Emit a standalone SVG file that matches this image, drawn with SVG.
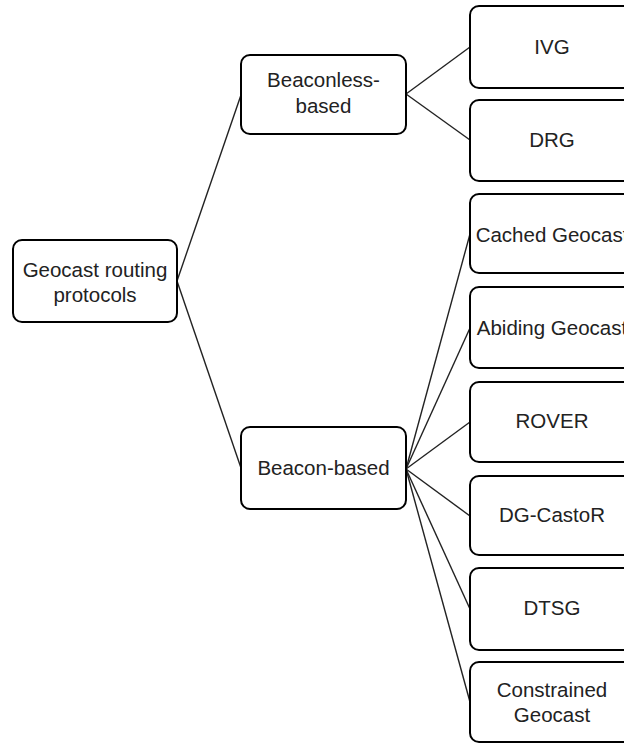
<svg xmlns="http://www.w3.org/2000/svg" width="624" height="743" viewBox="0 0 624 743">
<style>
.box{fill:#fff;stroke:#000;stroke-width:2}
.t{font-family:"Liberation Sans",Arial,sans-serif;font-size:20.5px;fill:#222;text-anchor:middle}
.c{stroke:#222;stroke-width:1.4;fill:none}
</style>
<rect width="624" height="743" fill="#fff"/>
<g id="connectors">
<line class="c" x1="177" y1="281" x2="241" y2="95"/>
<line class="c" x1="177" y1="281" x2="241" y2="468"/>
<line class="c" x1="406" y1="94" x2="470" y2="47"/>
<line class="c" x1="406" y1="94" x2="470" y2="140"/>
<line class="c" x1="406" y1="469" x2="470" y2="234"/>
<line class="c" x1="406" y1="469" x2="470" y2="328"/>
<line class="c" x1="406" y1="469" x2="470" y2="422"/>
<line class="c" x1="406" y1="469" x2="470" y2="516"/>
<line class="c" x1="406" y1="469" x2="470" y2="609"/>
<line class="c" x1="406" y1="469" x2="470" y2="702"/>
</g>
<g id="root">
<rect class="box" x="13" y="240" width="164" height="82" rx="9"/>
<text class="t" x="95" y="277">Geocast routing</text>
<text class="t" x="95" y="302">protocols</text>
</g>
<g id="beaconless">
<rect class="box" x="241" y="55" width="165" height="79" rx="9"/>
<text class="t" x="323.5" y="87">Beaconless-</text>
<text class="t" x="323.5" y="113">based</text>
</g>
<g id="beacon">
<rect class="box" x="241" y="427" width="165" height="82" rx="9"/>
<text class="t" x="323.5" y="475">Beacon-based</text>
</g>
<g id="ivg">
<rect class="box" x="470" y="6" width="166" height="82" rx="9"/>
<text class="t" x="552" y="54">IVG</text>
</g>
<g id="drg">
<rect class="box" x="470" y="100" width="166" height="81" rx="9"/>
<text class="t" x="552" y="147">DRG</text>
</g>
<g id="cached">
<rect class="box" x="470" y="194" width="166" height="79" rx="9"/>
<text class="t" x="552" y="242">Cached Geocast</text>
</g>
<g id="abiding">
<rect class="box" x="470" y="287" width="166" height="81" rx="9"/>
<text class="t" x="552" y="335">Abiding Geocast</text>
</g>
<g id="rover">
<rect class="box" x="470" y="382" width="166" height="80" rx="9"/>
<text class="t" x="552" y="428">ROVER</text>
</g>
<g id="dgcastor">
<rect class="box" x="470" y="476" width="166" height="79" rx="9"/>
<text class="t" x="552" y="522">DG-CastoR</text>
</g>
<g id="dtsg">
<rect class="box" x="470" y="568" width="166" height="82" rx="9"/>
<text class="t" x="552" y="615">DTSG</text>
</g>
<g id="constrained">
<rect class="box" x="470" y="662" width="166" height="80" rx="9"/>
<text class="t" x="552" y="697">Constrained</text>
<text class="t" x="552" y="722">Geocast</text>
</g>
</svg>
